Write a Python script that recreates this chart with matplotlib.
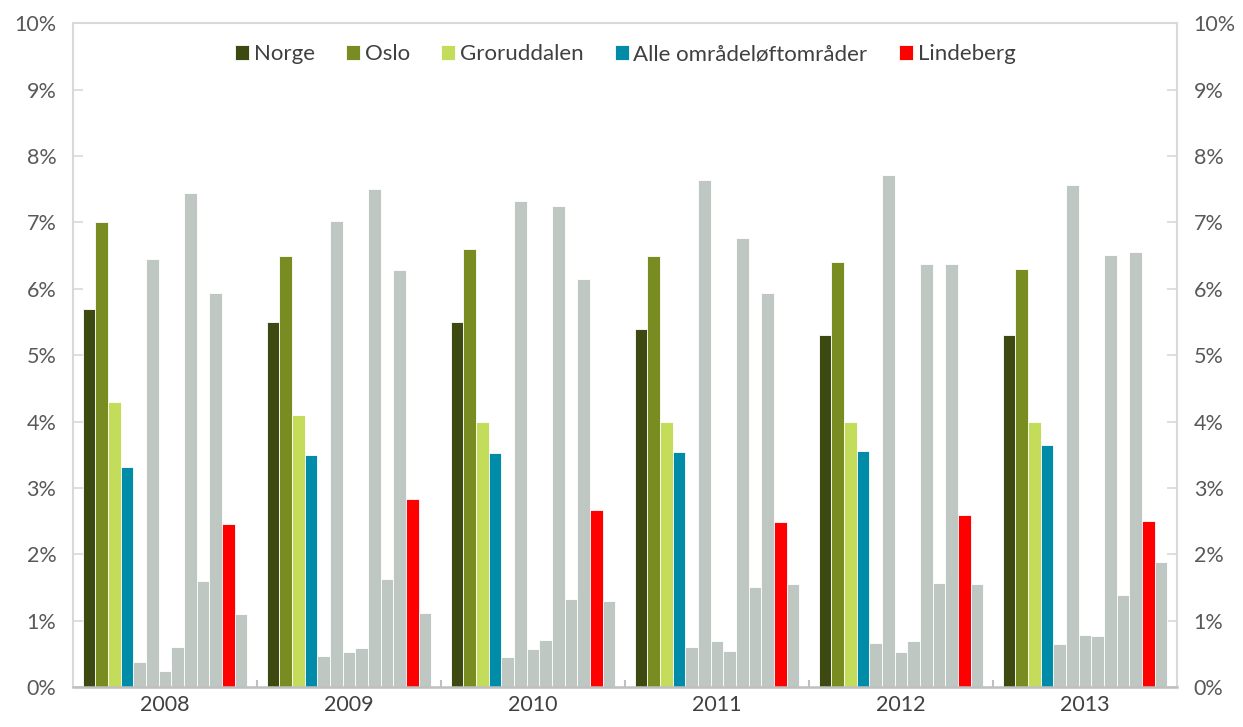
import numpy as np
import matplotlib.pyplot as plt
from matplotlib.ticker import FuncFormatter, FixedLocator

plt.rcParams['font.family'] = ['Lato', 'DejaVu Sans']

years = ['2008', '2009', '2010', '2011', '2012', '2013']

norge = [5.7, 5.5, 5.5, 5.4, 5.3, 5.3]
oslo = [7.0, 6.5, 6.6, 6.5, 6.4, 6.3]
groruddalen = [4.3, 4.1, 4.0, 4.0, 4.0, 4.0]
alle_omrader = [3.32, 3.50, 3.53, 3.54, 3.56, 3.65]
lindeberg = [2.45, 2.83, 2.67, 2.49, 2.59, 2.50]

# the other områdeløft areas (unnamed, drawn in grey), one list per area
andre_1 = [0.38, 0.47, 0.45, 0.60, 0.67, 0.65]
andre_2 = [6.45, 7.02, 7.32, 7.64, 7.72, 7.57]
andre_3 = [0.24, 0.52, 0.57, 0.70, 0.53, 0.79]
andre_4 = [0.60, 0.59, 0.71, 0.54, 0.70, 0.77]
andre_5 = [7.45, 7.51, 7.25, 6.77, 6.38, 6.51]
andre_6 = [1.59, 1.62, 1.32, 1.50, 1.56, 1.38]
andre_7 = [5.93, 6.29, 6.14, 5.94, 6.37, 6.55]
andre_8 = [1.10, 1.11, 1.29, 1.55, 1.55, 1.88]

grey = '#BFC7C3'
series = [
    (norge, '#3C4A12', 'Norge'),
    (oslo, '#788C21', 'Oslo'),
    (groruddalen, '#C3DD5B', 'Groruddalen'),
    (alle_omrader, '#008CA8', 'Alle områdeløftområder'),
    (andre_1, grey, None),
    (andre_2, grey, None),
    (andre_3, grey, None),
    (andre_4, grey, None),
    (andre_5, grey, None),
    (andre_6, grey, None),
    (andre_7, grey, None),
    (lindeberg, '#FF0000', 'Lindeberg'),
    (andre_8, grey, None),
]

fig = plt.figure(figsize=(12.43, 7.27), dpi=100)
ax = fig.add_axes([0.0587, 0.055, 0.8883, 0.913])

x = np.arange(len(years))
n = len(series)
w = 1.0 / (n + 1.52)
for j, (vals, col, lab) in enumerate(series):
    ax.bar(x + (j - (n - 1) / 2) * w, vals, width=w, color=col,
           edgecolor='white', linewidth=0.6, label=lab, zorder=2)

ax.set_xlim(-0.5, len(years) - 0.5)
ax.set_ylim(0, 10)
ax.set_yticks(np.arange(0, 11, 1))
ax.yaxis.set_major_formatter(FuncFormatter(lambda v, p: f'{v:.0f}%'))
ax.yaxis.set_ticks_position('both')
ax.tick_params(axis='y', direction='in', length=7, width=1.2, color='#D9D9D9',
               labelright=True, labelsize=15.5, labelcolor='#595959', pad=12)

ax.set_xticks(x)
ax.set_xticklabels(years)
ax.xaxis.set_minor_locator(FixedLocator(x[:-1] + 0.5))
ax.tick_params(axis='x', which='major', length=0, labelsize=15.5,
               labelcolor='#404040', pad=6)
ax.tick_params(axis='x', which='minor', direction='in', length=5, width=1.5,
               color='#BFBFBF')

for s in ['left', 'right', 'top']:
    ax.spines[s].set_color('#D9D9D9')
    ax.spines[s].set_linewidth(1.5)
ax.spines['bottom'].set_color('#BFBFBF')
ax.spines['bottom'].set_linewidth(1.8)

handles, labels = ax.get_legend_handles_labels()
leg = ax.legend(handles, labels, loc='center', bbox_to_anchor=(0.5, 0.953),
                ncol=5, frameon=False, fontsize=16, handlelength=0.65,
                handleheight=0.65, handletextpad=0.2, columnspacing=1.4)
for t in leg.get_texts():
    t.set_color('#404040')

fig.savefig('out.png', dpi=100)
